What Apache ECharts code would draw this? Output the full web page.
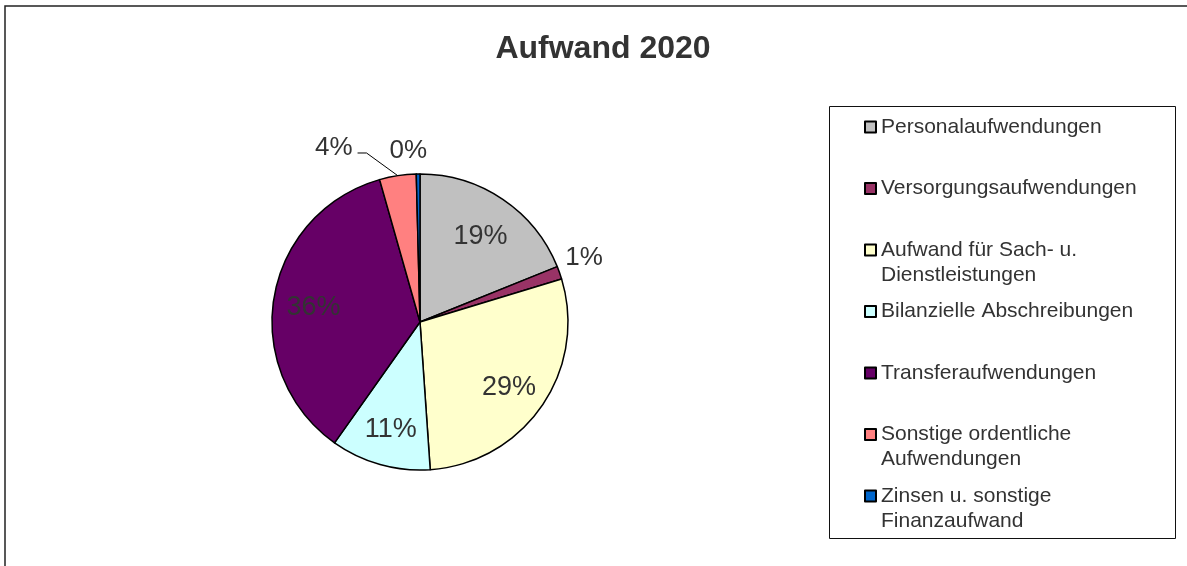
<!DOCTYPE html>
<html>
<head>
<meta charset="utf-8">
<script src="https://cdn.jsdelivr.net/npm/echarts@6/dist/echarts.min.js"></script>
<style>
html,body{margin:0;padding:0;background:#fff;}
#chart{width:1187px;height:566px;}
</style>
</head>
<body>
<div id="chart"></div>
<script>
const titleText = 'Aufwand 2020';
const categories = [
  'Personalaufwendungen',
  'Versorgungsaufwendungen',
  'Aufwand für Sach- u.\nDienstleistungen',
  'Bilanzielle Abschreibungen',
  'Transferaufwendungen',
  'Sonstige ordentliche\nAufwendungen',
  'Zinsen u. sonstige\nFinanzaufwand'
];
const values = [18.9, 1.4, 28.6, 10.9, 35.8, 4.0, 0.4];
const colors = ['#C0C0C0', '#993366', '#FFFFCC', '#CCFFFF', '#660066', '#FF8080', '#0066CC'];

const FONT = 'Liberation Sans, Arial, Helvetica, sans-serif';
const outsideLimit = 5; // slices smaller than this get outside labels

const pct = p => Math.round(p.percent) + '%';

// visible pie (with outside labels for small slices)
const pieData = categories.map((name, i) => {
  const small = values[i] < outsideLimit;
  return {
    name: name,
    value: values[i],
    itemStyle: { color: colors[i] },
    label: { show: small },
    labelLine: {
      show: i === 5,
      length: i === 5 ? 28 : 4,
      length2: i === 5 ? 36 : 0
    }
  };
});
// transparent ring carrying the inside labels of the large slices
const labelData = categories.map((name, i) => ({
  name: name,
  value: values[i],
  label: { show: values[i] >= outsideLimit }
}));

const nudge = { 1: [-3, -14], 6: [14, -19] };

const legends = categories.map((name, i) => {
  const twoLine = name.indexOf('\n') >= 0;
  const firstLineY = 125.5 + 61.5 * i;
  return {
    data: [name],
    orient: 'vertical',
    left: 864,
    top: firstLineY - 11 - (twoLine ? 25 : 0),
    padding: 0,
    icon: 'rect',
    itemWidth: 11,
    itemHeight: 11,
    selectedMode: false,
    itemStyle: { borderColor: '#000', borderWidth: 2 },
    formatter: n => n.split('\n').map(s => '{t|' + s + '}').join('\n'),
    textStyle: {
      padding: twoLine ? [25, 0, 0, 0] : 0,
      lineHeight: 25,
      rich: { t: { fontFamily: FONT, fontSize: 21, lineHeight: 25, color: '#333' } }
    }
  };
});

const chart = echarts.init(document.getElementById('chart'), null, { renderer: 'canvas' });
chart.setOption({
  animation: false,
  backgroundColor: '#fff',
  title: {
    text: titleText,
    left: 603,
    top: 33,
    textAlign: 'center',
    padding: 0,
    textStyle: { fontFamily: FONT, fontSize: 32, fontWeight: 'bold', color: '#333' }
  },
  legend: legends,
  graphic: [
    { type: 'polyline', silent: true, shape: { points: [[5, 566], [5, 6], [1187, 6]] },
      style: { stroke: '#222', lineWidth: 1.5, fill: null } },
    { type: 'rect', silent: true, shape: { x: 829.5, y: 106.5, width: 346, height: 432 },
      style: { stroke: '#111', lineWidth: 1, fill: null } }
  ],
  series: [
    {
      type: 'pie',
      center: [420, 322],
      radius: 148,
      startAngle: 90,
      clockwise: true,
      avoidLabelOverlap: false,
      data: pieData,
      itemStyle: { borderColor: '#000', borderWidth: 1.5 },
      label: {
        position: 'outside',
        formatter: pct,
        fontFamily: FONT,
        fontSize: 26,
        color: '#333'
      },
      labelLine: { lineStyle: { color: '#000', width: 1 }, smooth: false },
      labelLayout: p => {
        if (p.dataIndex === 5 && p.labelLinePoints) {
          const a = p.labelLinePoints[0];
          const c = p.labelLinePoints[2];
          return { labelLinePoints: [a, [c[0] + 9, c[1] + 5], [c[0], c[1] + 5]] };
        }
        const o = nudge[p.dataIndex];
        return o ? { dx: o[0], dy: o[1] } : {};
      },
      emphasis: { disabled: true }
    },
    {
      type: 'pie',
      center: [420, 322],
      radius: [62, 148],
      startAngle: 90,
      clockwise: true,
      silent: true,
      avoidLabelOverlap: false,
      data: labelData,
      itemStyle: { color: 'rgba(0,0,0,0)', borderWidth: 0 },
      label: {
        position: 'inside',
        formatter: pct,
        fontFamily: FONT,
        fontSize: 27,
        color: '#333'
      },
      labelLayout: () => ({ dy: 4 }),
      labelLine: { show: false },
      emphasis: { disabled: true }
    }
  ]
});
</script>
</body>
</html>
